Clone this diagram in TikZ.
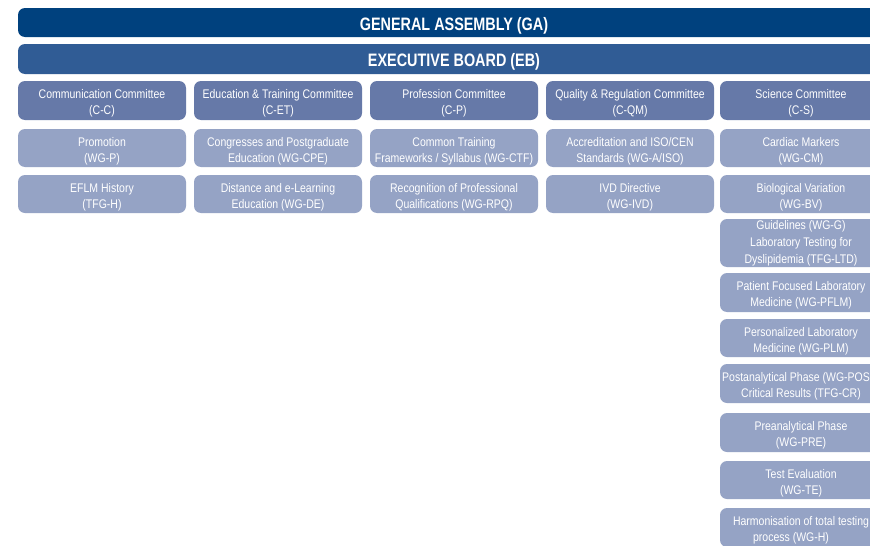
\documentclass[tikz,border=0pt]{standalone}
\usepackage{fontspec}
\setmainfont[FakeStretch=0.84]{Liberation Sans}
\newfontfamily\titlefont[FakeStretch=0.8]{Liberation Sans}
\definecolor{gaBlue}{HTML}{00417E}
\definecolor{ebBlue}{HTML}{305C95}
\definecolor{comBlue}{HTML}{6679A8}
\definecolor{wgBlue}{HTML}{95A3C5}
% invisible strut that lowers the text block inside its box
\newcommand\toppad{\rule{0pt}{15.5pt}}
\tikzset{
  box/.style={rounded corners=7pt, inner sep=0pt, align=center, text=white,
    minimum width=168pt, font=\fontsize{12.5}{16}\selectfont},
  bar/.style={box, minimum width=872pt, font=\titlefont\fontsize{18}{20}\selectfont\bfseries},
  gabar/.style={bar, fill=gaBlue, minimum height=29pt},
  ebbar/.style={bar, fill=ebBlue, minimum height=30pt},
  committee/.style={box, fill=comBlue, minimum height=39pt},
  group/.style={box, fill=wgBlue, minimum height=#1},
  group/.default=38pt,
  science/.style={minimum width=162pt}
}
\begin{document}
\begin{tikzpicture}[x=1pt, y=-1pt]
\useasboundingbox (0,0) rectangle (870,546);
\clip (0,0) rectangle (870,546);
\fill[white] (0,0) rectangle (870,546);

% governing bodies
\node[gabar] (ga) at (454,22.5) {\rule{0pt}{19.5pt}GENERAL ASSEMBLY (GA)};
\node[ebbar] (eb) at (454,59) {\rule{0pt}{19.5pt}EXECUTIVE BOARD (EB)};

% committees
\node[committee] (cc)  at (102,100.5) {\toppad Communication Committee\\(C-C)};
\node[committee] (cet) at (278,100.5) {\toppad Education \& Training Committee\\(C-ET)};
\node[committee] (cp)  at (454,100.5) {\toppad Profession Committee\\(C-P)};
\node[committee] (cqm) at (630,100.5) {\toppad Quality \& Regulation Committee\\(C-QM)};
\node[committee, science] (cs) at (801,100.5) {\toppad Science Committee\\(C-S)};

% working groups, first row
\node[group] (wgp)   at (102,148) {\toppad Promotion\\(WG-P)};
\node[group] (wgcpe) at (278,148) {\toppad Congresses and Postgraduate\\Education (WG-CPE)};
\node[group] (wgctf) at (454,148) {\toppad Common Training\\Frameworks / Syllabus (WG-CTF)};
\node[group] (wga)   at (630,148) {\toppad Accreditation and ISO/CEN\\Standards (WG-A/ISO)};
\node[group, science] (wgcm) at (801,148) {\toppad Cardiac Markers\\(WG-CM)};

% working groups, second row
\node[group] (tfgh)  at (102,194) {\toppad EFLM History\\(TFG-H)};
\node[group] (wgde)  at (278,194) {\toppad Distance and e-Learning\\Education (WG-DE)};
\node[group] (wgrpq) at (454,194) {\toppad Recognition of Professional\\Qualifications (WG-RPQ)};
\node[group] (wgivd) at (630,194) {\toppad IVD Directive\\(WG-IVD)};
\node[group, science] (wgbv) at (801,194) {\toppad Biological Variation\\(WG-BV)};

% science committee groups
\node[group=48pt, science, font=\fontsize{12.5}{16.8}\selectfont] (wgg) at (801,243)
  {Guidelines (WG-G)\\Laboratory Testing for\\Dyslipidemia (TFG-LTD)};
\node[group=39pt, science] (wgpflm) at (801,292.5) {\toppad Patient Focused Laboratory\\Medicine (WG-PFLM)};
\node[group, science]      (wgplm)  at (801,338)   {\toppad Personalized Laboratory\\Medicine (WG-PLM)};
\node[group=39pt, science] (wgpost) at (801,383.5) {\toppad Postanalytical Phase (WG-POST)\\Critical Results (TFG-CR)};
\node[group=39pt, science] (wgpre)  at (801,432.5) {\toppad Preanalytical Phase\\(WG-PRE)};
\node[group, science]      (wgte)   at (801,480)   {\toppad Test Evaluation\\(WG-TE)};
\node[group=39pt, science] (wgh)    at (801,527.5) {\toppad Harmonisation of total testing\\process (WG-H)\hspace*{20pt}};
\end{tikzpicture}
\end{document}
